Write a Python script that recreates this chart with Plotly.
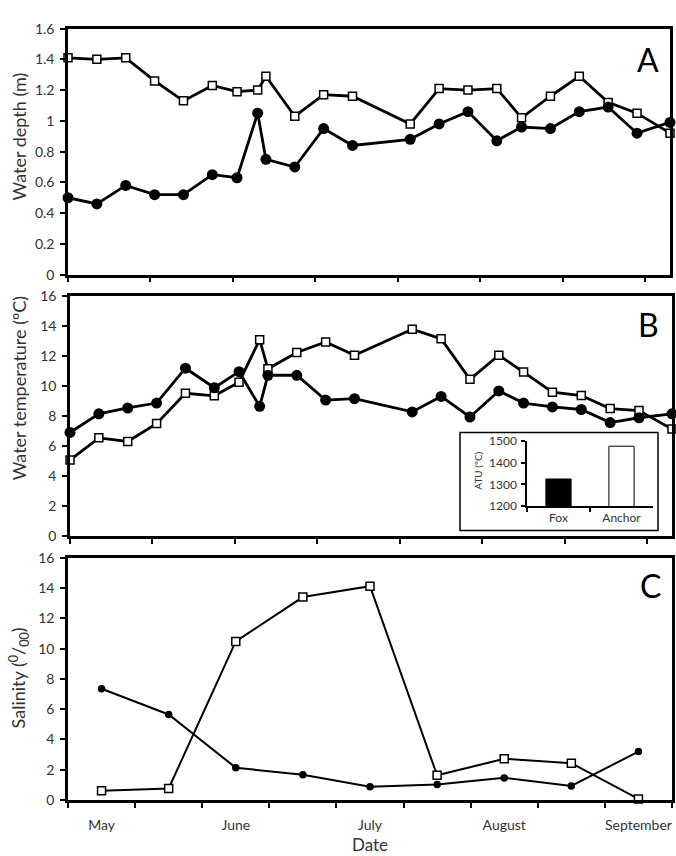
import plotly.graph_objects as go

W, H = 676, 856
FONT = "Lato"
TXT = "#333333"

# ---------------- data ----------------
# days since start of season (panels A & B)
days = [0, 7, 14, 21, 28, 35, 41, 46, 48, 55, 62, 69, 83, 90, 97, 104, 110, 117, 124, 131, 138, 146]

depth_fox = [0.50, 0.46, 0.58, 0.52, 0.52, 0.65, 0.63, 1.05, 0.75, 0.70, 0.95, 0.84,
             0.88, 0.98, 1.06, 0.87, 0.96, 0.95, 1.06, 1.09, 0.92, 0.99]
depth_anchor = [1.41, 1.40, 1.41, 1.26, 1.13, 1.23, 1.19, 1.20, 1.29, 1.03, 1.17, 1.16,
                0.98, 1.21, 1.20, 1.21, 1.02, 1.16, 1.29, 1.12, 1.05, 0.92]

temp_fox = [6.92, 8.16, 8.55, 8.88, 11.2, 9.9, 10.97, 8.66, 10.73, 10.73, 9.08, 9.17,
            8.29, 9.32, 7.95, 9.69, 8.88, 8.62, 8.45, 7.58, 7.9, 8.16]
temp_anchor = [5.08, 6.56, 6.32, 7.51, 9.53, 9.36, 10.27, 13.1, 11.16, 12.25, 12.95, 12.07,
               13.8, 13.16, 10.46, 12.07, 10.94, 9.6, 9.38, 8.51, 8.38, 7.15]

# half-monthly salinity samples (panel C)
sal_pos = [1, 2, 3, 4, 5, 6, 7, 8, 9]
sal_fox = [7.35, 5.65, 2.13, 1.67, 0.87, 1.02, 1.46, 0.93, 3.2]
sal_anchor = [0.61, 0.76, 10.48, 13.41, 14.13, 1.63, 2.72, 2.43, 0.07]
month_pos = [1, 3, 5, 7, 9]
month_labels = ["May", "June", "July", "August", "September"]

# inset: accumulated thermal units
atu_sites = ["Fox", "Anchor"]
atu_values = [1325, 1477]

# ---------------- helpers ----------------
def px_x(p):
    return p / W

def px_y(p):
    return 1 - p / H

fig = go.Figure()

def add_pair(x, fox, anchor, xa, ya, lw, csize, ssize):
    fig.add_trace(go.Scatter(x=x, y=anchor, xaxis=xa, yaxis=ya, mode="lines+markers",
                             line=dict(color="black", width=lw),
                             marker=dict(symbol="square", size=ssize, color="white",
                                         line=dict(color="black", width=1.5)),
                             cliponaxis=False, showlegend=False))
    fig.add_trace(go.Scatter(x=x, y=fox, xaxis=xa, yaxis=ya, mode="lines+markers",
                             line=dict(color="black", width=lw),
                             marker=dict(symbol="circle", size=csize, color="black"),
                             cliponaxis=False, showlegend=False))

add_pair(days, depth_fox, depth_anchor, "x", "y", 2.8, 11, 8)
add_pair(days, temp_fox, temp_anchor, "x2", "y2", 2.8, 11, 8)
add_pair(sal_pos, sal_fox, sal_anchor, "x3", "y3", 2.0, 7.5, 8)

fig.add_trace(go.Bar(x=atu_sites, y=atu_values, xaxis="x4", yaxis="y4",
                     marker=dict(color=["black", "white"], line=dict(color="black", width=1)),
                     width=0.4, showlegend=False))

tickfont = dict(family=FONT, size=14, color=TXT)
AXW = 2.5

def yax(domain, rng, dtick, anchor):
    return dict(domain=domain, range=rng, dtick=dtick, tick0=0, anchor=anchor,
                showline=True, linecolor="black", linewidth=AXW, mirror=True,
                ticks="outside", ticklen=5, tickwidth=2, tickcolor="black",
                showgrid=False, zeroline=False, tickfont=tickfont, ticklabelstandoff=3)

def xax_days(domain, anchor):
    return dict(domain=domain, range=[0, 146], tick0=0, dtick=20, anchor=anchor,
                showline=True, linecolor="black", linewidth=AXW, mirror=True,
                ticks="outside", ticklen=5, tickwidth=2, tickcolor="black",
                showticklabels=False, showgrid=False, zeroline=False)

fig.update_layout(
    width=W, height=H, margin=dict(l=0, r=0, t=0, b=0),
    paper_bgcolor="white", plot_bgcolor="white",
    font=dict(family=FONT, color=TXT),
    xaxis=xax_days([px_x(68), px_x(670)], "y"),
    yaxis=yax([px_y(271), px_y(20)], [0, 1.6], 0.2, "x"),
    xaxis2=xax_days([px_x(70), px_x(672)], "y2"),
    yaxis2=yax([px_y(538), px_y(293)], [0, 16], 2, "x2"),
    xaxis3=dict(domain=[px_x(68), px_x(672)], range=[0.5, 9.5], anchor="y3",
                tickmode="array", tickvals=month_pos, ticktext=month_labels,
                ticks="", ticklabelstandoff=10, tickfont=tickfont,
                minor=dict(tickmode="linear", tick0=0.5, dtick=1, ticks="outside",
                           ticklen=5, tickwidth=2, tickcolor="black"),
                showline=True, linecolor="black", linewidth=AXW, mirror=True,
                showgrid=False, zeroline=False),
    yaxis3=yax([px_y(807), px_y(560)], [0, 16], 2, "x3"),
    xaxis4=dict(domain=[px_x(527), px_x(653)], anchor="y4", type="category",
                tickson="boundaries", ticks="outside", ticklen=4, tickwidth=1.5,
                tickcolor="black", showline=True, linecolor="black", linewidth=1.5,
                tickfont=dict(family=FONT, size=12, color=TXT), showgrid=False),
    yaxis4=dict(domain=[px_y(507), px_y(441)], anchor="x4", range=[1200, 1500],
                dtick=100, ticks="outside", ticklen=4, tickwidth=1.5, tickcolor="black",
                showline=True, linecolor="black", linewidth=1.5, showgrid=False,
                zeroline=False, tickfont=dict(family=FONT, size=12, color=TXT),
                ticklabelstandoff=2),
    bargap=0.6,
)

# inset frame
fig.add_shape(type="rect", xref="paper", yref="paper",
              x0=px_x(460), x1=px_x(658), y0=px_y(532), y1=px_y(432),
              line=dict(color="black", width=1.5), fillcolor="white", layer="below")

ann = []
def text(x, y, s, size, angle=0, color=TXT, yanchor="middle"):
    ann.append(dict(x=px_x(x), y=px_y(y), xref="paper", yref="paper", text=s,
                    showarrow=False, textangle=angle, xanchor="center", yanchor=yanchor,
                    font=dict(family=FONT, size=size, color=color)))

text(19, 130, "Water depth (m)", 18, -90)
text(19, 387, "Water temperature (ºC)", 18, -90)
text(19, 683, "Salinity (<sup>0</sup>/<sub>00</sub>)", 18, -90)
text(478, 471, "ATU (ºC)", 10, -90)
text(370, 852, "Date", 17)
text(648, 52, "A", 32, 0, "black")
text(648, 322, "B", 32, 0, "black")
text(650, 588, "C", 32, 0, "black")
fig.update_layout(annotations=ann)

fig.write_html("out.html")
